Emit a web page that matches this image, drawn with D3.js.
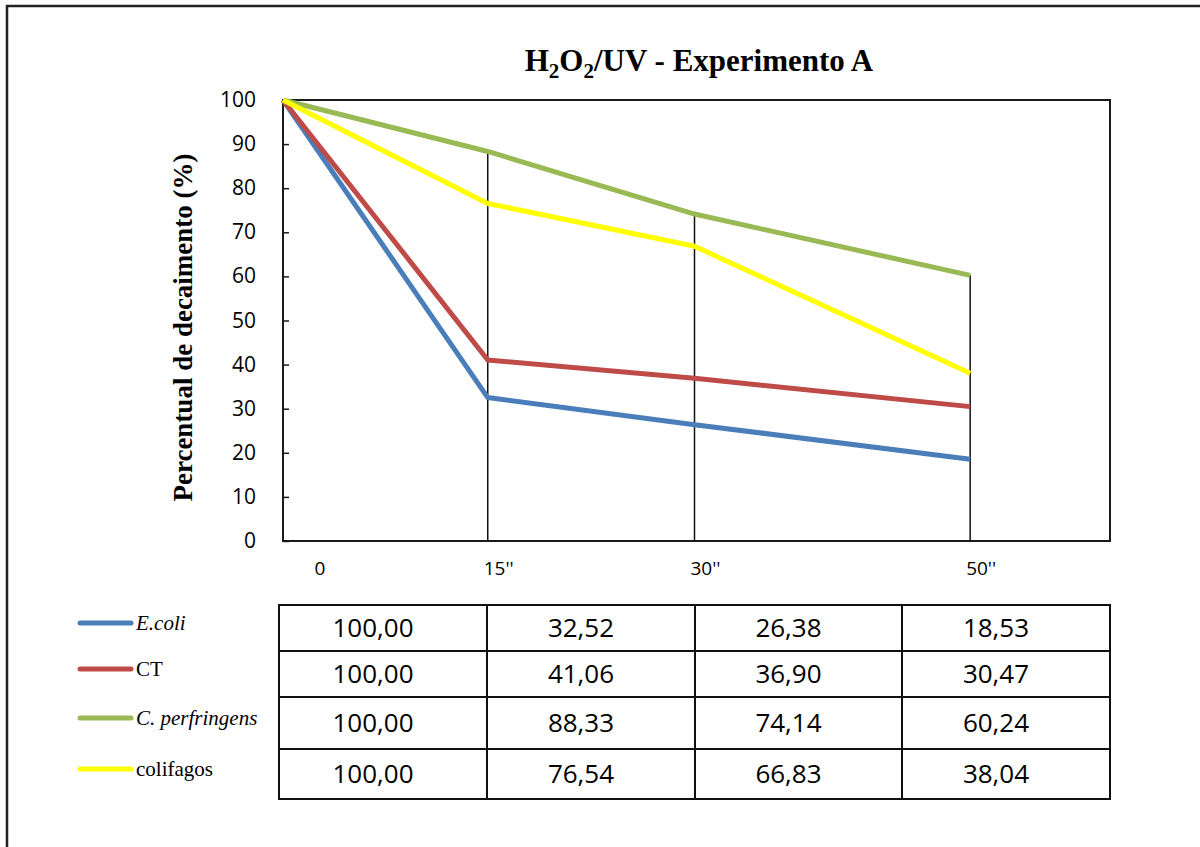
<!DOCTYPE html>
<html>
<head>
<meta charset="utf-8">
<script src="https://cdn.jsdelivr.net/npm/d3@7"></script>
<style>
  body { margin: 0; background: #fff; }
</style>
</head>
<body>
<div id="chart"></div>
<script>
// data
var times = [ 0, 15, 30, 50 ];
var timeLabels = [ '0', '15\'\'', '30\'\'', '50\'\'' ];
var seriesNames = [ 'E.coli', 'CT', 'C. perfringens', 'colifagos' ];
var ecoli = [ 100.00, 32.52, 26.38, 18.53 ];
var ct = [ 100.00, 41.06, 36.90, 30.47 ];
var perfringens = [ 100.00, 88.33, 74.14, 60.24 ];
var colifagos = [ 100.00, 76.54, 66.83, 38.04 ];
var yTicks = [ 0, 10, 20, 30, 40, 50, 60, 70, 80, 90, 100 ];

var seriesColors = [ '#4a7ebb', '#be4b48', '#98b954', '#ffff00' ];
var seriesItalic = [ true, false, true, false ];
var allSeries = [ ecoli, ct, perfringens, colifagos ];

var width = 1200, height = 847;
var plot = { left: 283, right: 1110, top: 100, bottom: 541 };

var svg = d3.select( '#chart' ).append( 'svg' )
  .attr( 'width', width )
  .attr( 'height', height );

// outer frame (only left and top are visible)
svg.append( 'path' )
  .attr( 'd', 'M7,' + height + ' V6 H' + width )
  .attr( 'fill', 'none' )
  .attr( 'stroke', '#222' )
  .attr( 'stroke-width', 2.5 );

var x = d3.scaleLinear().domain( [ 0, 60 ] ).range( [ plot.left, plot.right ] );
var y = d3.scaleLinear().domain( [ 0, 100 ] ).range( [ plot.bottom, plot.top ] );

// title
var title = svg.append( 'text' )
  .attr( 'x', 699 )
  .attr( 'y', 71 )
  .attr( 'text-anchor', 'middle' )
  .attr( 'font-family', '"Liberation Serif", "Times New Roman", serif' )
  .attr( 'font-weight', 'bold' )
  .attr( 'font-size', '31px' )
  .attr( 'fill', '#000' );
title.append( 'tspan' ).text( 'H' );
title.append( 'tspan' ).attr( 'font-size', '21px' ).attr( 'dy', 7 ).text( '2' );
title.append( 'tspan' ).attr( 'dy', -7 ).text( 'O' );
title.append( 'tspan' ).attr( 'font-size', '21px' ).attr( 'dy', 7 ).text( '2' );
title.append( 'tspan' ).attr( 'dy', -7 ).text( '/UV - Experimento A' );

// y axis title
svg.append( 'text' )
  .attr( 'transform', 'translate(192,' + ( ( plot.top + plot.bottom ) / 2 + 7 ) + ') rotate(-90)' )
  .attr( 'text-anchor', 'middle' )
  .attr( 'font-family', '"Liberation Serif", "Times New Roman", serif' )
  .attr( 'font-weight', 'bold' )
  .attr( 'font-size', '27px' )
  .attr( 'fill', '#000' )
  .text( 'Percentual de decaimento (%)' );

// plot area border
svg.append( 'rect' )
  .attr( 'x', plot.left )
  .attr( 'y', plot.top )
  .attr( 'width', plot.right - plot.left )
  .attr( 'height', plot.bottom - plot.top )
  .attr( 'fill', 'none' )
  .attr( 'stroke', '#1a1a1a' )
  .attr( 'stroke-width', 2 );

// y axis, ticks inside
var yAxis = svg.append( 'g' )
  .attr( 'transform', 'translate(' + plot.left + ',0)' )
  .call( d3.axisRight( y ).tickValues( yTicks ).tickSize( 6 ).tickFormat( '' ) );
yAxis.select( '.domain' ).remove();
yAxis.selectAll( 'line' ).attr( 'stroke', '#1a1a1a' ).attr( 'stroke-width', 1.5 );

svg.selectAll( '.ylabel' )
  .data( yTicks )
  .enter()
  .append( 'text' )
  .attr( 'class', 'ylabel' )
  .attr( 'x', plot.left - 27 )
  .attr( 'y', function( d ) { return y( d ) + 7; } )
  .attr( 'text-anchor', 'end' )
  .attr( 'font-family', '"Open Sans", sans-serif' )
  .attr( 'font-size', '21px' )
  .attr( 'fill', '#000' )
  .text( function( d ) { return d; } );

// x labels
svg.selectAll( '.xlabel' )
  .data( times )
  .enter()
  .append( 'text' )
  .attr( 'class', 'xlabel' )
  .attr( 'x', function( d, i ) { return x( d ) + ( i === 0 ? 37 : 9 ); } )
  .attr( 'y', 575 )
  .attr( 'text-anchor', 'middle' )
  .attr( 'font-family', '"Open Sans", sans-serif' )
  .attr( 'font-size', '19px' )
  .attr( 'fill', '#000' )
  .text( function( d, i ) { return timeLabels[ i ]; } );

// drop lines from the highest point to the axis
svg.selectAll( '.drop' )
  .data( times.slice( 1 ) )
  .enter()
  .append( 'line' )
  .attr( 'class', 'drop' )
  .attr( 'x1', function( d ) { return x( d ) - 2; } )
  .attr( 'x2', function( d ) { return x( d ) - 2; } )
  .attr( 'y1', function( d ) {
    var i = times.indexOf( d );
    return y( d3.max( allSeries, function( s ) { return s[ i ]; } ) );
  } )
  .attr( 'y2', plot.bottom )
  .attr( 'stroke', '#111' )
  .attr( 'stroke-width', 1.5 );

// series lines
var line = d3.line()
  .x( function( d, i ) { return x( times[ i ] ) - ( i > 0 ? 2 : 0 ); } )
  .y( function( d ) { return y( d ); } );

svg.selectAll( '.series' )
  .data( allSeries )
  .enter()
  .append( 'path' )
  .attr( 'class', 'series' )
  .attr( 'd', line )
  .attr( 'fill', 'none' )
  .attr( 'stroke', function( d, i ) { return seriesColors[ i ]; } )
  .attr( 'stroke-width', 5 )
  .attr( 'stroke-linejoin', 'round' );

// data table
var colEdges = [ 279, 487, 695, 902, 1110 ];
var rowEdges = [ 605, 651, 697, 749, 799 ];

var table = svg.append( 'g' );
for ( var r = 0; r < allSeries.length; r++ ) {
  var rowMid = ( rowEdges[ r ] + rowEdges[ r + 1 ] ) / 2;
  for ( var c = 0; c < times.length; c++ ) {
    table.append( 'rect' )
      .attr( 'x', colEdges[ c ] )
      .attr( 'y', rowEdges[ r ] )
      .attr( 'width', colEdges[ c + 1 ] - colEdges[ c ] )
      .attr( 'height', rowEdges[ r + 1 ] - rowEdges[ r ] )
      .attr( 'fill', 'none' )
      .attr( 'stroke', '#111' )
      .attr( 'stroke-width', 2 );
    table.append( 'text' )
      .attr( 'x', ( colEdges[ c ] + colEdges[ c + 1 ] ) / 2 - 10 )
      .attr( 'y', rowMid + 9 )
      .attr( 'text-anchor', 'middle' )
      .attr( 'font-family', '"Open Sans", sans-serif' )
      .attr( 'font-size', '26px' )
      .attr( 'fill', '#000' )
      .text( allSeries[ r ][ c ].toFixed( 2 ).replace( '.', ',' ) );
  }

  // legend key
  var keyY = rowMid - 5;
  table.append( 'line' )
    .attr( 'x1', 80 )
    .attr( 'x2', 131 )
    .attr( 'y1', keyY )
    .attr( 'y2', keyY )
    .attr( 'stroke', seriesColors[ r ] )
    .attr( 'stroke-width', 5 )
    .attr( 'stroke-linecap', 'round' );
  table.append( 'text' )
    .attr( 'x', 136 )
    .attr( 'y', keyY + 7 )
    .attr( 'font-family', '"Liberation Serif", "Times New Roman", serif' )
    .attr( 'font-style', seriesItalic[ r ] ? 'italic' : 'normal' )
    .attr( 'font-size', '21px' )
    .attr( 'fill', '#000' )
    .text( seriesNames[ r ] );
}
</script>
</body>
</html>
